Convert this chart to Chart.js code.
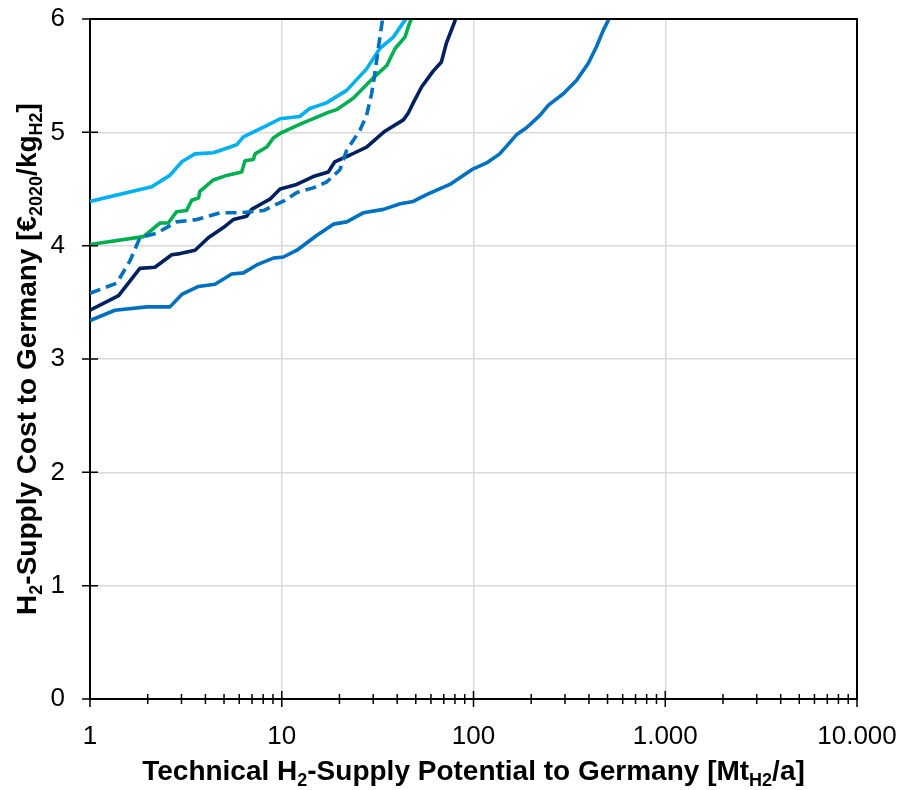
<!DOCTYPE html>
<html>
<head>
<meta charset="utf-8">
<script src="https://cdn.jsdelivr.net/npm/chart.js@4"></script>
<style>
html,body{margin:0;padding:0;background:#fff;}
#wrap{width:904px;height:790px;position:relative;}
</style>
</head>
<body>
<div id="wrap"><canvas id="c" width="904" height="790"></canvas></div>
<script>
// ---- data ----
const xTicks = [1, 10, 100, 1000, 10000];
const yTicks = [0, 1, 2, 3, 4, 5, 6];

const cyanX = [1, 2.10, 2.61, 3.01, 3.53, 4.40, 5.16, 5.82, 6.31, 8.35, 9.80, 12.4, 14.0, 17.1, 21.8, 27.7, 32.5, 38.2, 43.9, 47];
const cyanY = [4.39, 4.52, 4.62, 4.74, 4.81, 4.82, 4.86, 4.89, 4.96, 5.06, 5.12, 5.14, 5.21, 5.26, 5.37, 5.56, 5.74, 5.84, 5.99, 6.05];

const greenX = [1, 1.90, 2.32, 2.56, 2.83, 3.19, 3.39, 3.68, 3.74, 4.40, 5.16, 6.18, 6.43, 7.11, 7.26, 8.35, 9.04, 9.80, 12.4, 17.1, 19.3, 23.6, 30.0, 35.3, 39.0, 43.9, 45.7, 48.5];
const greenY = [4.01, 4.08, 4.20, 4.20, 4.30, 4.31, 4.40, 4.42, 4.48, 4.58, 4.62, 4.65, 4.75, 4.76, 4.81, 4.87, 4.95, 4.99, 5.07, 5.17, 5.20, 5.30, 5.48, 5.59, 5.74, 5.84, 5.93, 6.05];

const navyX = [1, 1.41, 1.82, 2.18, 2.67, 2.95, 3.53, 4.14, 4.96, 5.59, 6.56, 6.97, 7.85, 8.68, 9.80, 11.97, 14.6, 17.5, 18.9, 22.7, 27.7, 34.5, 43.1, 45.7, 48.5, 53.6, 61.6, 68.0, 72.3, 79.9, 81.5];
const navyY = [3.43, 3.56, 3.80, 3.81, 3.92, 3.93, 3.96, 4.07, 4.16, 4.23, 4.26, 4.32, 4.37, 4.41, 4.50, 4.54, 4.61, 4.65, 4.74, 4.80, 4.87, 5.01, 5.11, 5.17, 5.26, 5.40, 5.54, 5.62, 5.79, 5.98, 6.05];

const dashX = [1, 1.38, 1.62, 1.82, 2.23, 2.83, 3.60, 4.76, 6.06, 8.01, 10.4, 12.0, 14.6, 17.1, 20.1, 21.8, 25.6, 27.7, 29.4, 30.6, 31.8, 33.1, 33.9];
const dashY = [3.58, 3.67, 3.87, 4.07, 4.11, 4.21, 4.23, 4.29, 4.29, 4.31, 4.40, 4.47, 4.51, 4.56, 4.67, 4.84, 5.02, 5.15, 5.34, 5.52, 5.73, 5.93, 6.05];

const blueX = [1, 1.35, 1.98, 2.61, 3.01, 3.68, 4.49, 5.48, 6.31, 7.40, 9.04, 10.2, 12.0, 15.2, 18.6, 21.8, 26.6, 33.9, 41.5, 48.5, 56.9, 75.3, 97.9, 117, 137, 168, 189, 222, 246, 294, 345, 397, 439, 475, 505, 515];
const blueY = [3.34, 3.43, 3.46, 3.46, 3.57, 3.64, 3.66, 3.75, 3.76, 3.83, 3.89, 3.90, 3.96, 4.09, 4.19, 4.21, 4.29, 4.32, 4.37, 4.39, 4.45, 4.54, 4.67, 4.73, 4.81, 4.98, 5.04, 5.15, 5.24, 5.34, 5.46, 5.61, 5.76, 5.90, 5.99, 6.05];

const xTitle = [["Technical H",0],["2",1],["-Supply Potential to Germany [Mt",0],["H2",1],["/a]",0]];
const yTitle = [["H",0],["2",1],["-Supply Cost to Germany [€",0],["2020",1],["/kg",0],["H2",1],["]",0]];
// --------------------------------------

const pts = (xs, ys) => xs.map((x, i) => ({x: x, y: ys[i]}));
const FONT = "'Liberation Sans', Arial, sans-serif";

function fmtNum(v) {
  return String(v).replace(/\B(?=(\d{3})+(?!\d))/g, '.');
}

function drawRich(ctx, segs, cx, baseY, rot, big, small, subDrop) {
  ctx.save();
  ctx.translate(cx, baseY);
  if (rot) ctx.rotate(rot);
  let w = 0;
  const widths = segs.map(s => {
    ctx.font = "bold " + (s[1] ? small : big) + "px " + FONT;
    const m = ctx.measureText(s[0]).width;
    w += m;
    return m;
  });
  let x = -w / 2;
  ctx.fillStyle = '#000';
  ctx.textBaseline = 'alphabetic';
  ctx.textAlign = 'left';
  segs.forEach((s, i) => {
    ctx.font = "bold " + (s[1] ? small : big) + "px " + FONT;
    ctx.fillText(s[0], x, s[1] ? subDrop : 0);
    x += widths[i];
  });
  ctx.restore();
}

const decor = {
  id: 'decor',
  afterDraw(chart) {
    const ctx = chart.ctx;
    const a = chart.chartArea;
    const xs = chart.scales.x, ys = chart.scales.y;
    ctx.save();
    ctx.strokeStyle = '#000';
    ctx.lineWidth = 2;
    // top and right frame
    ctx.beginPath();
    ctx.moveTo(a.left, a.top);
    ctx.lineTo(a.right, a.top);
    ctx.lineTo(a.right, a.bottom);
    ctx.stroke();
    // y ticks crossing axis
    ctx.lineWidth = 1.5;
    ctx.beginPath();
    yTicks.forEach(v => {
      const py = ys.getPixelForValue(v);
      ctx.moveTo(a.left - 8, py);
      ctx.lineTo(a.left + 8, py);
    });
    // x ticks: majors and minors
    for (let d = 1; d <= 10000; d *= 10) {
      const px = xs.getPixelForValue(d);
      ctx.moveTo(px, a.bottom - 8);
      ctx.lineTo(px, a.bottom + 8);
      if (d < 10000) {
        for (let k = 2; k <= 9; k++) {
          const pm = xs.getPixelForValue(d * k);
          ctx.moveTo(pm, a.bottom - 5);
          ctx.lineTo(pm, a.bottom + 5);
        }
      }
    }
    ctx.stroke();
    ctx.restore();
    drawRich(ctx, xTitle, (a.left + a.right) / 2, 780, 0, 28, 18, 6);
    drawRich(ctx, yTitle, 36, (a.top + a.bottom) / 2, -Math.PI / 2, 28, 18, 6);
  }
};

const ds = (label, xs, ys, color, dash) => ({
  label: label,
  data: pts(xs, ys),
  borderColor: color,
  backgroundColor: color,
  borderWidth: 3.6,
  borderDash: dash || [],
  borderJoinStyle: 'round',
  pointRadius: 0,
  tension: 0,
  fill: false
});

new Chart(document.getElementById('c'), {
  type: 'line',
  data: {
    datasets: [
      ds('blue', blueX, blueY, '#0070C0'),
      ds('dashed', dashX, dashY, '#0070C0', [11, 6]),
      ds('navy', navyX, navyY, '#002060'),
      ds('green', greenX, greenY, '#00B050'),
      ds('cyan', cyanX, cyanY, '#00B0F0')
    ]
  },
  options: {
    responsive: false,
    animation: false,
    devicePixelRatio: 1,
    layout: {padding: {left: 0, top: 19, right: 47, bottom: 0}},
    plugins: {legend: {display: false}, tooltip: {enabled: false}},
    scales: {
      x: {
        type: 'logarithmic',
        min: 1, max: 10000,
        afterBuildTicks(s) { s.ticks = xTicks.map(v => ({value: v})); },
        afterFit(s) { s.height = 91; s.paddingLeft = 0; s.paddingRight = 0; },
        grid: {color: '#d9d9d9', lineWidth: 1.5, drawTicks: false},
        border: {color: '#000', width: 2},
        ticks: {
          autoSkip: false, maxRotation: 0, padding: 22,
          color: '#000',
          font: {family: FONT, size: 26},
          callback: v => fmtNum(v)
        },
        title: {display: false}
      },
      y: {
        type: 'linear',
        min: 0, max: 6,
        afterBuildTicks(s) { s.ticks = yTicks.map(v => ({value: v})); },
        afterFit(s) { s.width = 90; s.paddingTop = 0; s.paddingBottom = 0; },
        grid: {color: '#d9d9d9', lineWidth: 1.5, drawTicks: false},
        border: {color: '#000', width: 2},
        ticks: {
          padding: 25,
          color: '#000',
          font: {family: FONT, size: 26}
        },
        title: {display: false}
      }
    }
  },
  plugins: [decor]
});
</script>
</body>
</html>
